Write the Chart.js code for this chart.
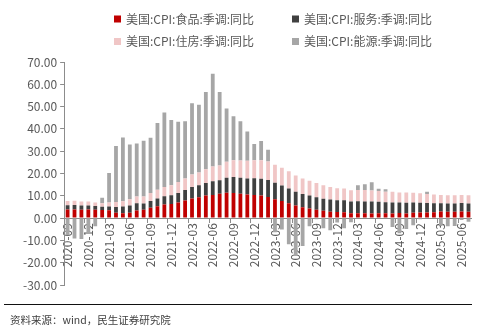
<!DOCTYPE html>
<html lang="zh-CN">
<head>
<meta charset="UTF-8">
<meta name="viewport" content="width=device-width, initial-scale=1.0">
<title>美国CPI分项</title>
<style>
    body { margin: 0; background: #fff; }
    #wrap { position: relative; width: 484px; height: 334px; }
    #note {
        position: absolute; left: 4px; top: 304px; width: 468px;
        border-top: 1.5px solid #111; box-sizing: border-box;
        padding: 7px 0 0 6px;
        font: 10.5px "Noto Sans CJK SC", sans-serif; color: #404040;
    }
</style>
</head>
<body>
<div id="wrap">
    <canvas id="myChart"></canvas>
    <div id="note">资料来源：wind，民生证券研究院</div>
</div>
<script src="https://cdn.jsdelivr.net/npm/chart.js@4.4.0/dist/chart.umd.min.js"></script>
<script>

    // months 2020-09 .. 2025-07
    const months = [
        '2020-09','2020-10','2020-11','2020-12',
        '2021-01','2021-02','2021-03','2021-04','2021-05','2021-06','2021-07','2021-08','2021-09','2021-10','2021-11','2021-12',
        '2022-01','2022-02','2022-03','2022-04','2022-05','2022-06','2022-07','2022-08','2022-09','2022-10','2022-11','2022-12',
        '2023-01','2023-02','2023-03','2023-04','2023-05','2023-06','2023-07','2023-08','2023-09','2023-10','2023-11','2023-12',
        '2024-01','2024-02','2024-03','2024-04','2024-05','2024-06','2024-07','2024-08','2024-09','2024-10','2024-11','2024-12',
        '2025-01','2025-02','2025-03','2025-04','2025-05','2025-06','2025-07'
    ]

    // labels shown on the axis (every 3rd month)
    const tickLabels = [
        '2020-09','2020-12','2021-03','2021-06','2021-09','2021-12','2022-03','2022-06','2022-09','2022-12',
        '2023-03','2023-06','2023-09','2023-12','2024-03','2024-06','2024-09','2024-12','2025-03','2025-06'
    ]

    const food = [
        3.9, 3.9, 3.7, 3.9,
        3.8, 3.6, 3.5, 2.4, 2.2, 2.4, 3.4, 3.7, 4.6, 5.3, 6.1, 6.3,
        7.0, 7.9, 8.8, 9.4, 10.1, 10.4, 10.9, 11.4, 11.2, 10.9, 10.6, 10.4,
        10.1, 9.5, 8.5, 7.7, 6.7, 5.7, 4.9, 4.3, 3.7, 3.3, 2.9, 2.7,
        2.6, 2.2, 2.2, 2.2, 2.1, 2.2, 2.2, 2.1, 2.3, 2.1, 2.4, 2.5,
        2.5, 2.6, 3.0, 2.8, 2.9, 3.0, 2.9
    ]

    const services = [
        1.9, 2.0, 2.0, 1.8,
        1.6, 1.5, 1.7, 2.6, 3.0, 3.3, 3.3, 2.9, 3.1, 3.5, 3.7, 3.9,
        4.3, 4.7, 5.1, 5.3, 5.6, 6.1, 6.1, 6.7, 7.2, 7.2, 7.2, 7.5,
        7.6, 7.6, 7.3, 6.9, 6.6, 6.1, 5.9, 5.8, 5.6, 5.4, 5.4, 5.3,
        5.4, 5.2, 5.4, 5.3, 5.3, 5.1, 4.9, 4.9, 4.7, 4.8, 4.6, 4.4,
        4.3, 4.1, 3.7, 3.7, 3.6, 3.8, 3.6
    ]

    const housing = [
        1.9, 1.9, 1.8, 1.7,
        1.6, 1.6, 1.8, 2.2, 2.4, 2.8, 3.0, 3.1, 3.5, 3.9, 4.2, 4.5,
        4.9, 5.2, 5.6, 5.8, 6.2, 6.6, 6.6, 7.2, 7.5, 7.7, 7.9, 8.0,
        8.2, 8.3, 8.1, 8.0, 7.7, 7.3, 7.0, 6.6, 6.4, 6.0, 5.6, 5.4,
        5.3, 5.1, 5.0, 5.1, 5.0, 4.9, 4.7, 4.8, 4.5, 4.6, 4.4, 4.2,
        4.0, 3.9, 3.7, 3.8, 3.7, 3.6, 3.7
    ]

    const energy = [
        -7.7, -9.2, -9.4, -7.0,
        -3.6, 2.4, 13.2, 25.1, 28.5, 24.5, 23.8, 25.0, 24.8, 30.0, 33.3, 29.3,
        27.0, 25.6, 32.0, 30.3, 34.6, 41.6, 32.9, 23.8, 19.8, 17.6, 13.1, 7.3,
        8.7, 5.2, -6.4, -5.1, -11.7, -16.7, -12.5, -3.6, -0.5, -4.5, -5.4, -2.0,
        -4.6, -1.9, 2.1, 2.6, 3.7, 1.0, 1.1, -4.0, -6.8, -4.9, -3.2, -0.5,
        1.0, -0.2, -3.3, -3.7, -3.5, -0.8, -1.6
    ]

    const seriesNames = [
        '美国:CPI:食品:季调:同比',
        '美国:CPI:服务:季调:同比',
        '美国:CPI:住房:季调:同比',
        '美国:CPI:能源:季调:同比'
    ]

    const FONT = '"Noto Sans CJK SC", "Noto Sans", sans-serif'
    const TEXT = '#595959'
    const AXIS = '#8c8c8c'
    Chart.defaults.font.family = FONT

    // two-by-two legend drawn above the plot
    const legendGrid = {
        id: 'legendGrid',
        afterDraw(chart) {
            const ctx = chart.ctx
            ctx.save()
            ctx.font = '12px ' + FONT
            ctx.textBaseline = 'middle'
            chart.data.datasets.forEach((ds, i) => {
                const x = i % 2 === 0 ? 114 : 292
                const y = i < 2 ? 19 : 41.5
                ctx.fillStyle = ds.backgroundColor
                ctx.fillRect(x, y - 3.5, 7, 7)
                ctx.fillStyle = TEXT
                ctx.fillText(ds.label, x + 12, y)
            })
            ctx.restore()
        }
    }

    const colors = ['#C00000', '#404040', '#F0C6C6', '#A6A6A6']
    const values = [food, services, housing, energy]

    const chartData = {
        labels: months,
        datasets: values.map((v, i) => ({
            label: seriesNames[i],
            data: v,
            backgroundColor: colors[i],
            categoryPercentage: 1,
            barPercentage: 0.55
        }))
    }

    const ctx = document.getElementById('myChart')

    new Chart(ctx, {
        type: 'bar',
        data: chartData,
        plugins: [legendGrid],
        options: {
            responsive: true,
            maintainAspectRatio: false,
            animation: false,
            layout: { padding: { top: 62, left: 20, right: 11, bottom: 49 } },
            plugins: {
                legend: { display: false },
                tooltip: { enabled: false }
            },
            scales: {
                x: {
                    stacked: true,
                    position: { y: 0 },
                    offset: true,
                    grid: {
                        offset: true,
                        drawOnChartArea: false,
                        tickLength: 4,
                        color: c => (c.index % 3 === 0 ? AXIS : 'rgba(0,0,0,0)')
                    },
                    border: { color: AXIS },
                    ticks: {
                        autoSkip: false,
                        minRotation: 90,
                        maxRotation: 90,
                        padding: 1,
                        color: TEXT,
                        font: { size: 12 },
                        callback: (v, i) => (tickLabels.includes(months[i]) ? months[i] : '')
                    }
                },
                y: {
                    stacked: true,
                    min: -30,
                    max: 70,
                    grid: { drawOnChartArea: false, tickLength: 4, color: AXIS },
                    border: { color: AXIS },
                    ticks: {
                        stepSize: 10,
                        padding: 3,
                        color: TEXT,
                        font: { size: 12 },
                        callback: v => v.toFixed(2)
                    }
                }
            }
        }
    })
</script>
</body>
</html>
